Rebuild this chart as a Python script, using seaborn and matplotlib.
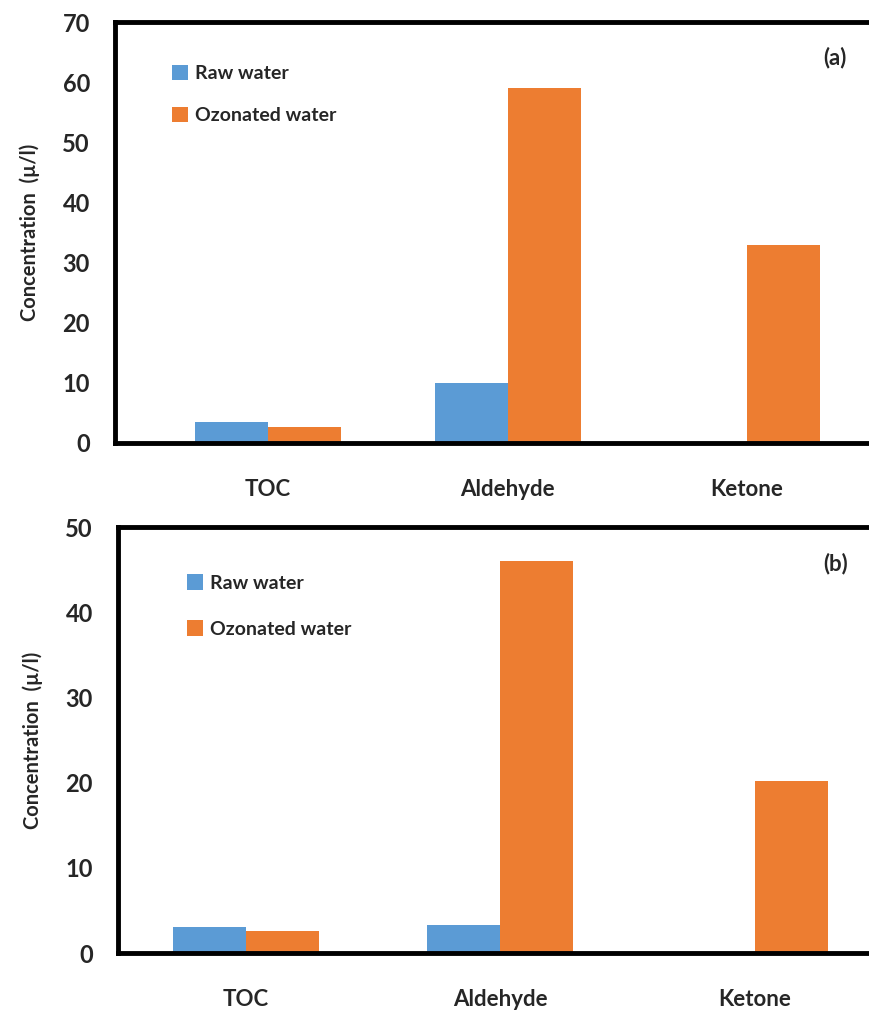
import pandas as pd
import matplotlib.pyplot as plt
import seaborn as sns

# Data
categories = ["TOC", "Aldehyde", "Ketone"]
series_names = ["Raw water", "Ozonated water"]
raw_a = [3.5, 10.0, 0.0]
ozon_a = [2.7, 59.0, 33.0]
raw_b = [3.1, 3.3, 0.0]
ozon_b = [2.6, 46.0, 20.2]

COLORS = ["#5B9BD5", "#ED7D31"]

sns.set_style("white")
plt.rcParams["font.family"] = ["Lato", "DejaVu Sans"]


def make_df(raw, ozon):
    return pd.DataFrame({
        "category": categories * 2,
        "series": [series_names[0]] * 3 + [series_names[1]] * 3,
        "value": raw + ozon,
    })


fig = plt.figure(figsize=(8.69, 10.1), dpi=100)
ax_a = fig.add_axes([0.1323, 0.5614, 0.8677, 0.4168])
ax_b = fig.add_axes([0.1358, 0.0564, 0.8642, 0.4218])

panels = [
    (ax_a, make_df(raw_a, ozon_a), 70, 10, 0.61, (-0.64, 2.51), "(a)", (0.052, 0.94), 1.25),
    (ax_b, make_df(raw_b, ozon_b), 50, 10, 0.574, (-0.503, 2.45), "(b)", (0.068, 0.93), 1.45),
]

for ax, df, ymax, step, bw, xlim, tag, leg_xy, lsp in panels:
    sns.barplot(data=df, x="category", y="value", hue="series",
                palette=COLORS, width=bw, ax=ax, saturation=1,
                edgecolor="none")
    ax.set_ylim(0, ymax)
    ax.set_yticks(range(0, ymax + 1, step))
    ax.set_xlim(*xlim)
    ax.set_xlabel("")
    ax.set_ylabel("Concentration  (\u00b5/l)", fontsize=14.5, fontweight="bold")
    ax.yaxis.set_label_coords(-0.1, 0.5)
    for s in ["left", "top", "bottom"]:
        ax.spines[s].set_linewidth(3.5)
        ax.spines[s].set_color("black")
    ax.spines["right"].set_visible(False)
    ax.tick_params(axis="y", direction="out", length=7, width=1, color="#999999",
                   labelsize=17, pad=11)
    ax.tick_params(axis="x", length=0, labelsize=16, pad=26)
    for lab in ax.get_xticklabels() + ax.get_yticklabels():
        lab.set_fontweight("bold")
    ax.legend(loc="upper left", bbox_to_anchor=leg_xy, frameon=False,
              handlelength=0.85, handleheight=0.85, handletextpad=0.35,
              labelspacing=lsp, prop={"size": 14, "weight": "bold"})
    ax.text(0.955, 0.915, tag, transform=ax.transAxes, ha="center", va="center",
            fontsize=16, fontweight="bold")

fig.savefig("out.png", dpi=100)
